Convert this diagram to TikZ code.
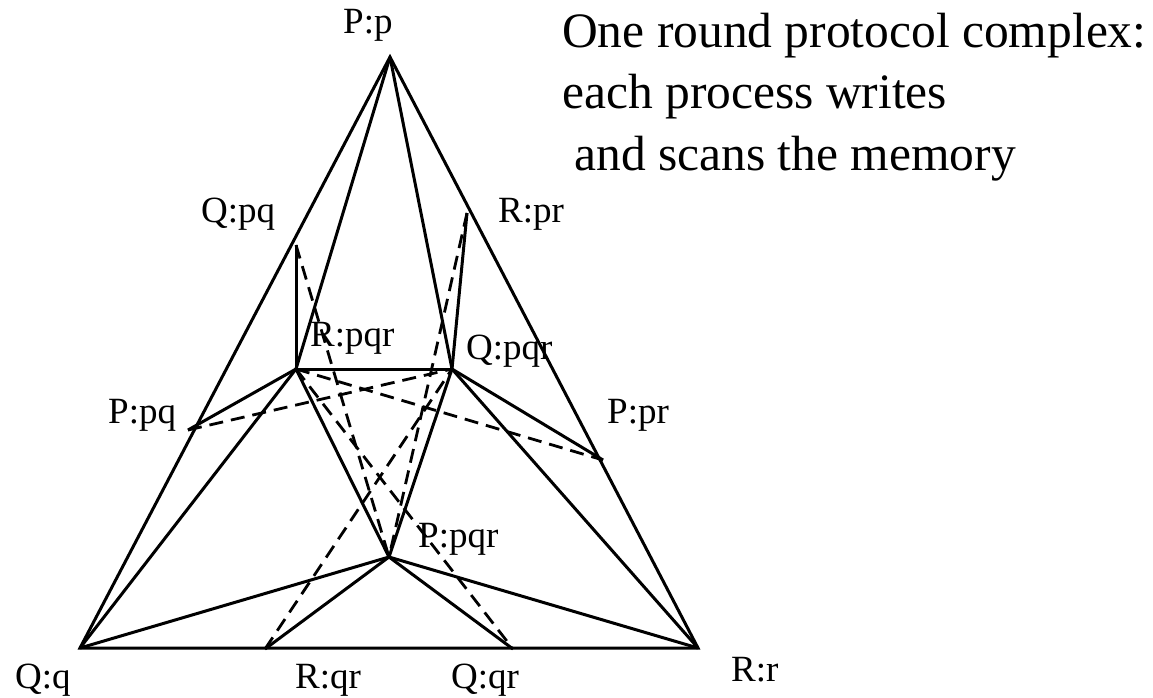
\documentclass[tikz,border=0pt]{standalone}
\usepackage{fontspec}
\setmainfont{Liberation Serif}
\begin{document}
\begin{tikzpicture}[x=1pt,y=-1pt,
  edge/.style={line width=3pt, line join=miter},
  dashedge/.style={line width=2.8pt, dash pattern=on 14pt off 8pt},
  lbl/.style={anchor=base west, inner sep=0pt, font=\fontsize{37}{44}\selectfont},
  ttl/.style={anchor=base west, inner sep=0pt, font=\fontsize{49.5}{62}\selectfont}]
\useasboundingbox (0,0) rectangle (1153,697);
% vertices
\coordinate (Pp) at (390,57);
\coordinate (Qq) at (80,648);
\coordinate (Rr) at (698,648);
\coordinate (Qpq) at (296,245);
\coordinate (Rpr) at (467,213);
\coordinate (Ppq) at (188,430);
\coordinate (Ppr) at (603,460);
\coordinate (Rpqr) at (296,369);
\coordinate (Qpqr) at (452,369);
\coordinate (Ppqr) at (389,557);
\coordinate (Rqr) at (265,649);
\coordinate (Qqr) at (513,649);
% outer triangle
\draw[edge] (Pp) -- (Qq) -- (Rr) -- cycle;
% solid edges
\draw[edge] (Pp) -- (Rpqr);
\draw[edge] (Pp) -- (Qpqr);
\draw[edge] (Qpq) -- (Rpqr);
\draw[edge] (Rpr) -- (Qpqr);
\draw[edge] (Rpqr) -- (Qpqr);
\draw[edge] (Rpqr) -- (Ppq);
\draw[edge] (Rpqr) -- (Qq);
\draw[edge] (Rpqr) -- (Ppqr);
\draw[edge] (Qpqr) -- (Ppqr);
\draw[edge] (Qpqr) -- (Ppr);
\draw[edge] (Qpqr) -- (Rr);
\draw[edge] (Ppqr) -- (Qq);
\draw[edge] (Ppqr) -- (Rqr);
\draw[edge] (Ppqr) -- (Qqr);
\draw[edge] (Ppqr) -- (Rr);
% dashed edges
\draw[dashedge] (Ppq) -- (Qpqr);
\draw[dashedge] (Rpqr) -- (Ppr);
\draw[dashedge] (Qpq) -- (Ppqr);
\draw[dashedge] (Rpr) -- (Ppqr);
\draw[dashedge] (Rpqr) -- (Qqr);
\draw[dashedge] (Rqr) -- (Qpqr);
% labels
\node[lbl] (lPp) at (343,33) {P:p};
\node[lbl] (lQpq) at (201,222) {Q:pq};
\node[lbl] (lRpr) at (498,222) {R:pr};
\node[lbl] (lRpqr) at (310,346) {R:pqr};
\node[lbl] (lQpqr) at (466,359) {Q:pqr};
\node[lbl] (lPpq) at (108,423) {P:pq};
\node[lbl] (lPpr) at (607,423) {P:pr};
\node[lbl] (lPpqr) at (418,547) {P:pqr};
\node[lbl] (lQq) at (15,688) {Q:q};
\node[lbl] (lRqr) at (295,688) {R:qr};
\node[lbl] (lQqr) at (451,688) {Q:qr};
\node[lbl] (lRr) at (731,681) {R:r};
% title
\node[ttl] (t1) at (562,47) {One round protocol complex:};
\node[ttl] (t2) at (562,108) {each process writes};
\node[ttl] (t3) at (562,170) {\ and scans the memory};
\end{tikzpicture}
\end{document}
